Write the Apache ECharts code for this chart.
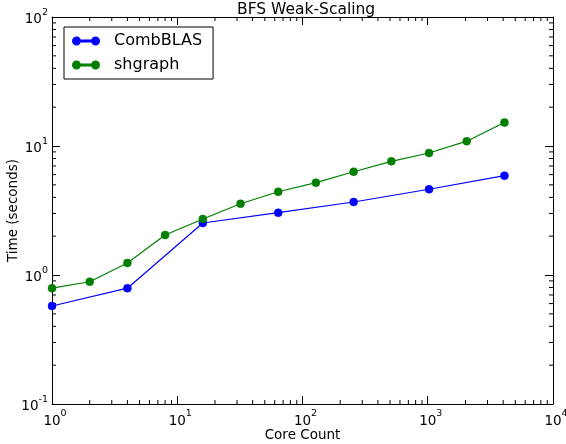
<!DOCTYPE html>
<html>
<head>
<meta charset="utf-8">
<script src="https://cdn.jsdelivr.net/npm/echarts@6/dist/echarts.min.js"></script>
<style>
    html, body { margin: 0; padding: 0; background: #fff; }
    #chart { width: 566px; height: 444px; }
</style>
</head>
<body>
<div id="chart"></div>
<script>
// core counts (x) and times in seconds (y)
var combCores = [1, 4, 16, 64, 256, 1024, 4096];
var combTimes = [0.575, 0.79, 2.53, 3.04, 3.68, 4.62, 5.89];
var shCores = [1, 2, 4, 8, 16, 32, 64, 128, 256, 512, 1024, 2048, 4096];
var shTimes = [0.79, 0.887, 1.24, 2.04, 2.72, 3.57, 4.42, 5.2, 6.32, 7.61, 8.83, 10.9, 15.2];
var seriesNames = ["CombBLAS", "shgraph"];
var xDecades = [1, 10, 100, 1000];
var yDecades = [0.1, 1, 10];

var FONT = "DejaVu Sans";
var chart = echarts.init(document.getElementById("chart"));

function zip(xs, ys) {
    return xs.map(function (x, i) { return [x, ys[i]]; });
}

// minor ticks at 2..9 of each decade, like matplotlib
function minorTicks(decades) {
    var out = [];
    decades.forEach(function (d) {
        for (var k = 2; k <= 9; k++) out.push(d * k);
    });
    return out;
}

function powLabel(v) {
    var e = Math.round(Math.log10(v));
    return "{b|10}{s|" + e + "}";
}

var labelRich = {
    b: { fontFamily: FONT, fontSize: 13.5, color: "#000", verticalAlign: "bottom", lineHeight: 19 },
    s: { fontFamily: FONT, fontSize: 9.5, color: "#000", verticalAlign: "top", lineHeight: 19 }
};

var legendIcon = "path://M0,4a4,4 0 1,0 8,0a4,4 0 1,0 -8,0Z M22,4a4,4 0 1,0 8,0a4,4 0 1,0 -8,0Z M7,3.5h16v1h-16Z";

function baseX(pos, showLabel) {
    return {
        type: "log", logBase: 10, min: 1, max: 10000, position: pos,
        axisLine: { show: true, onZero: false, lineStyle: { color: "#000", width: 1 } },
        axisTick: { show: true, inside: true, length: 8, lineStyle: { color: "#000" } },
        axisLabel: { show: showLabel, margin: 5, padding: [0, 0, 0, 6], formatter: powLabel, rich: labelRich },
        splitLine: { show: false }
    };
}
function baseY(pos, showLabel) {
    return {
        type: "log", logBase: 10, min: 0.1, max: 100, position: pos,
        axisLine: { show: true, onZero: false, lineStyle: { color: "#000", width: 1 } },
        axisTick: { show: true, inside: true, length: 8, lineStyle: { color: "#000" } },
        axisLabel: { show: showLabel, margin: 4, formatter: powLabel, rich: labelRich },
        splitLine: { show: false }
    };
}

var xBottom = baseX("bottom", true);
xBottom.name = "Core Count";
xBottom.nameLocation = "middle";
xBottom.nameGap = 24;
xBottom.nameMoveOverlap = false;
xBottom.nameTextStyle = { fontFamily: FONT, fontSize: 13.5, color: "#000" };
var yLeft = baseY("left", true);
yLeft.name = "Time (seconds)";
yLeft.nameLocation = "middle";
yLeft.nameGap = 32;
yLeft.nameMoveOverlap = false;
yLeft.nameTextStyle = { fontFamily: FONT, fontSize: 13.5, color: "#000" };

function lineSeries(name, data, color) {
    return {
        name: name, type: "line", data: data,
        symbol: "circle", symbolSize: 8,
        lineStyle: { color: color, width: 1.2 },
        itemStyle: { color: color, borderColor: color, borderWidth: 0.5 },
        emphasis: { disabled: true },
        z: 3
    };
}

var option = {
    animation: false,
    backgroundColor: "#fff",
    title: {
        text: "BFS Weak-Scaling",
        left: 232, top: -3,
        textStyle: { fontFamily: FONT, fontSize: 15.5, fontWeight: "normal", color: "#000" }
    },
    grid: { left: 52, right: 13, top: 17, bottom: 40, outerBoundsMode: "none", containLabel: false },
    legend: {
        data: seriesNames.map(function (n) { return { name: n, icon: legendIcon }; }),
        orient: "vertical",
        left: 64, top: 27,
        padding: [6, 11, 6, 8],
        itemWidth: 26, itemHeight: 8, itemGap: 8,
        borderColor: "#000", borderWidth: 1,
        textStyle: { fontFamily: FONT, fontSize: 16, color: "#000", padding: [0, 0, 0, 10] }
    },
    xAxis: [xBottom, baseX("top", false)],
    yAxis: [yLeft, baseY("right", false)],
    series: [
        lineSeries(seriesNames[0], zip(combCores, combTimes), "#0000ff"),
        lineSeries(seriesNames[1], zip(shCores, shTimes), "#007f00"),
        {
            type: "custom", silent: true, clip: false,
            data: minorTicks(xDecades).map(function (v) { return [v, 1]; }),
            renderItem: function (params, api) {
                var cs = params.coordSys;
                var x = api.coord([api.value(0), 1])[0];
                var st = { stroke: "#000", lineWidth: 1 };
                return { type: "group", children: [
                    { type: "line", shape: { x1: x, y1: cs.y + cs.height, x2: x, y2: cs.y + cs.height - 4 }, style: st },
                    { type: "line", shape: { x1: x, y1: cs.y, x2: x, y2: cs.y + 4 }, style: st }
                ] };
            }
        },
        {
            type: "custom", silent: true, clip: false,
            data: minorTicks(yDecades).map(function (v) { return [1, v]; }),
            renderItem: function (params, api) {
                var cs = params.coordSys;
                var y = api.coord([1, api.value(1)])[1];
                var st = { stroke: "#000", lineWidth: 1 };
                return { type: "group", children: [
                    { type: "line", shape: { x1: cs.x, y1: y, x2: cs.x + 4, y2: y }, style: st },
                    { type: "line", shape: { x1: cs.x + cs.width, y1: y, x2: cs.x + cs.width - 4, y2: y }, style: st }
                ] };
            }
        }
    ]
};

chart.setOption(option);
</script>
</body>
</html>
